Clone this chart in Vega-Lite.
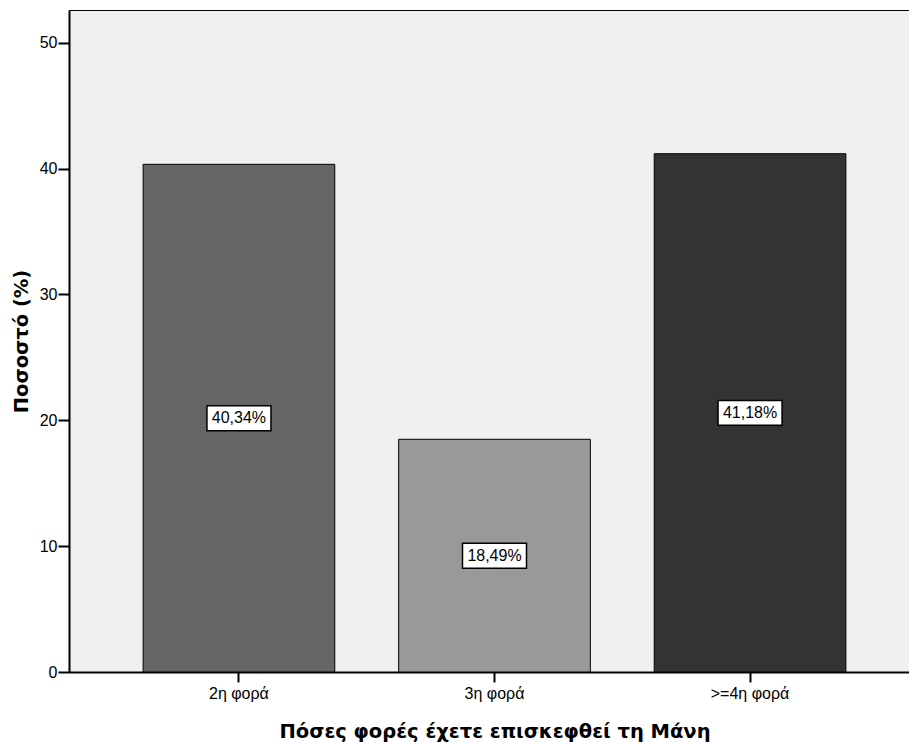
{
  "$schema": "https://vega.github.io/schema/vega-lite/v6.json",
  "autosize": "none",
  "padding": {"left": 69, "top": 10, "right": 0, "bottom": 70},
  "width": 851,
  "height": 662,
  "background": "#ffffff",
  "config": {
    "view": {"fill": "#f0f0f0", "stroke": "#000000", "strokeWidth": 1},
    "font": "Liberation Sans"
  },
  "data": {
    "values": [
      {"cat": "2η φορά", "pct": 40.34, "label": "40,34%"},
      {"cat": "3η φορά", "pct": 18.49, "label": "18,49%"},
      {"cat": ">=4η φορά", "pct": 41.18, "label": "41,18%"}
    ]
  },
  "transform": [{"calculate": "datum.pct / 2", "as": "mid"}],
  "encoding": {
    "x": {
      "field": "cat",
      "type": "nominal",
      "sort": null,
      "scale": {"paddingInner": 0.25, "paddingOuter": 0.29},
      "axis": {
        "title": "Πόσες φορές έχετε επισκεφθεί τη Μάνη",
        "titleFont": "DejaVu Sans",
        "titleFontSize": 19.5,
        "titleFontWeight": "bold",
        "titleColor": "#000000",
        "titlePadding": 21,
        "labelAngle": 0,
        "labelFontSize": 16,
        "labelColor": "#000000",
        "labelPadding": 3,
        "tickColor": "#000000",
        "tickSize": 10,
        "tickWidth": 2,
        "domainColor": "#000000",
        "domainWidth": 2,
        "grid": false
      }
    }
  },
  "layer": [
    {
      "mark": {"type": "bar", "stroke": "#000000", "strokeWidth": 1},
      "encoding": {
        "y": {
          "field": "pct",
          "type": "quantitative",
          "scale": {"domain": [0, 52.6], "nice": false},
          "axis": {
            "title": "Ποσοστό (%)",
            "titleFont": "DejaVu Sans",
            "titleFontSize": 19.5,
            "titleFontWeight": "bold",
            "titleColor": "#000000",
            "titlePadding": 8,
            "values": [0, 10, 20, 30, 40, 50],
            "labelFontSize": 16,
            "labelColor": "#000000",
            "labelPadding": 1,
            "tickColor": "#000000",
            "tickSize": 11,
            "tickWidth": 2,
            "domainColor": "#000000",
            "domainWidth": 2,
            "grid": false
          }
        },
        "color": {
          "field": "cat",
          "type": "nominal",
          "sort": null,
          "scale": {"range": ["#666666", "#999999", "#333333"]},
          "legend": null
        }
      }
    },
    {
      "mark": {
        "type": "point",
        "shape": "M-1,-0.39L1,-0.39L1,0.39L-1,0.39Z",
        "size": 4096,
        "filled": true,
        "fill": "#ffffff",
        "stroke": "#000000",
        "strokeWidth": 1.5,
        "opacity": 1
      },
      "encoding": {
        "y": {"field": "mid", "type": "quantitative"}
      }
    },
    {
      "mark": {"type": "text", "fontSize": 16, "color": "#000000", "baseline": "middle", "align": "center"},
      "encoding": {
        "y": {"field": "mid", "type": "quantitative"},
        "text": {"field": "label"}
      }
    }
  ]
}
